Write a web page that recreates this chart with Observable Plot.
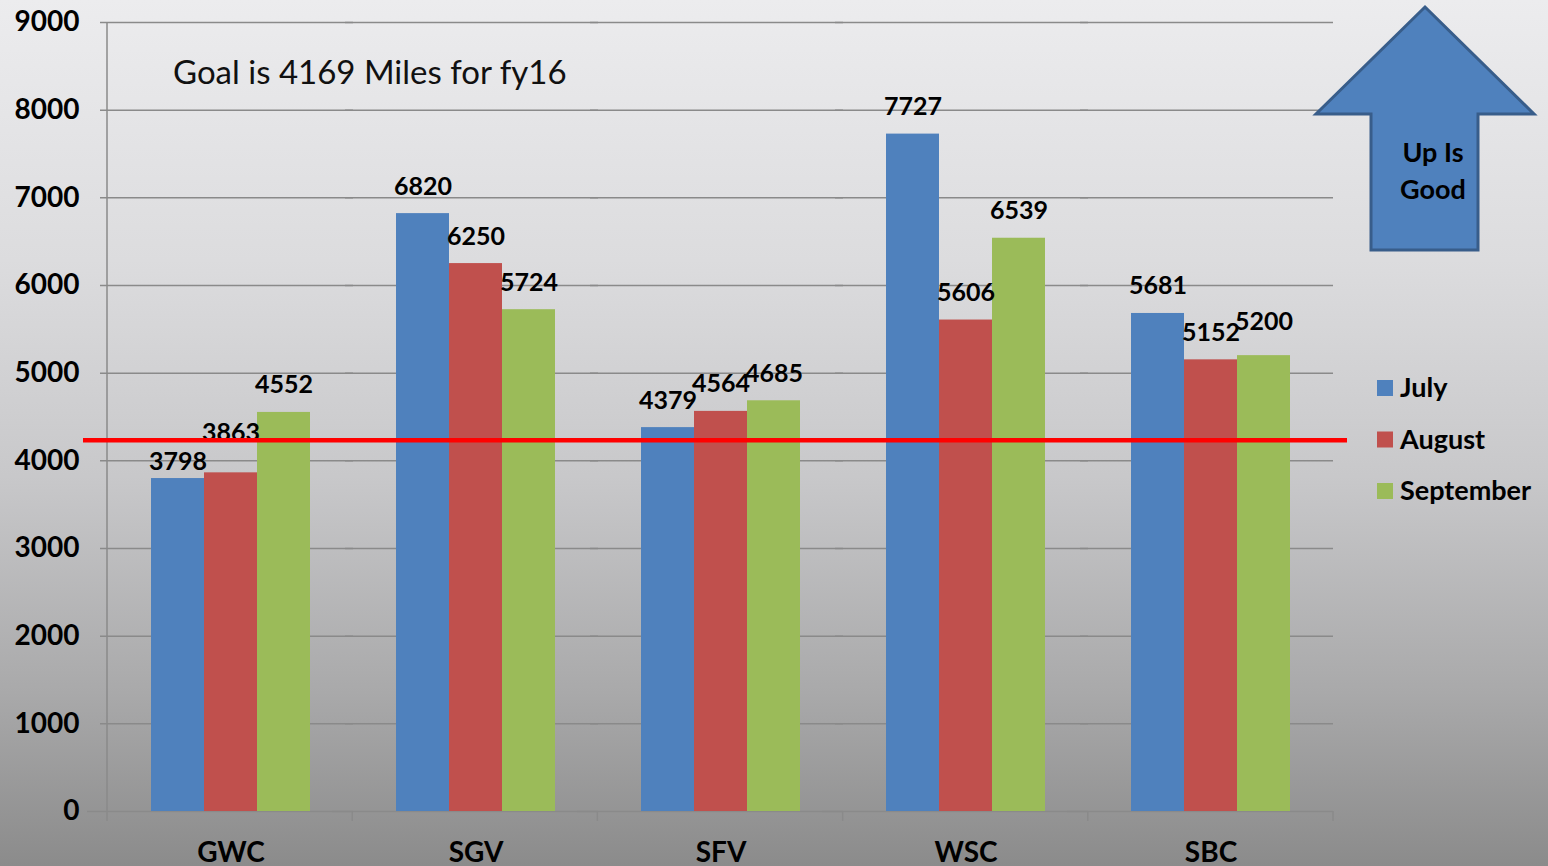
<!DOCTYPE html>
<html>
<head>
<meta charset="utf-8">
<script src="https://cdn.jsdelivr.net/npm/d3@7"></script>
<script src="https://cdn.jsdelivr.net/npm/@observablehq/plot@0.6"></script>
<style>
  html, body { margin: 0; padding: 0; }
  body {
    width: 1548px; height: 866px; overflow: hidden;
    background: linear-gradient(to bottom, #ececee 0%, #dcdcde 30%, #c8c8ca 55%, #a9a9aa 80%, #8b8b8b 100%);
  }
  #chart svg { display: block; background: transparent; }
</style>
</head>
<body>
<div id="chart"></div>
<script>
// ---- data ----
const categories = ["GWC", "SGV", "SFV", "WSC", "SBC"];
const series = ["July", "August", "September"];
const july      = [3798, 6820, 4379, 7727, 5681];
const august    = [3863, 6250, 4564, 5606, 5152];
const september = [4552, 5724, 4685, 6539, 5200];
const yTicks = [0, 1000, 2000, 3000, 4000, 5000, 6000, 7000, 8000, 9000];
const goalText = "Goal is 4169 Miles for fy16";
const goalLineLevel = 4230; // where the red line sits in the picture
const arrowText = ["Up Is", "Good"];
const colors = ["#4f81bd", "#c0504d", "#9bbb59"];

const seriesValues = [july, august, september];
const rows = categories.flatMap((c, i) =>
  series.map((s, j) => ({ cat: c, series: s, value: seriesValues[j][i] }))
);

// labels that the original chart nudged to avoid overlaps
const isKey = (d, c, s) => d.cat === c && d.series === s;
const lowLabel = d => isKey(d, "GWC", "July");
const highLabel = d => isKey(d, "GWC", "August");
const midLabel = d => isKey(d, "SBC", "September");
const normalLabel = d => !lowLabel(d) && !highLabel(d) && !midLabel(d);

const labelOpts = (dy) => ({ x: "series", y: "value", text: d => String(d.value), dy, fontSize: 25, fontWeight: "bold", fill: "#000" });

const W = 1548, H = 866;
const plot = Plot.plot({
  width: W, height: H,
  marginLeft: 107, marginRight: 215, marginTop: 22, marginBottom: 55,
  facet: { data: rows, x: "cat" },
  fx: { domain: categories, padding: 0, label: null, tickSize: 0, tickPadding: 31 },
  x: { domain: series, axis: null, paddingInner: 0, paddingOuter: 0.77 },
  y: { domain: [0, 9000], ticks: yTicks, tickSize: 0, tickPadding: 29, label: null, tickFormat: d => String(d) },
  color: { domain: series, range: colors },
  style: { background: "transparent", fontFamily: "Lato, 'Open Sans', sans-serif", fontSize: "28px", fontWeight: "bold", color: "#000", overflow: "visible" },
  marks: [
    Plot.ruleY(yTicks.filter(t => t > 0), { stroke: "#8a8a8a", strokeWidth: 1.5, insetLeft: -8 }),
    Plot.ruleY([0], { stroke: "#8a8a8a", strokeWidth: 1.5, insetLeft: -21 }),
    Plot.barY(rows, { x: "series", y: "value", fill: "series" }),
    Plot.text(rows, { ...labelOpts(-27), filter: normalLabel }),
    Plot.text(rows, { ...labelOpts(-17), filter: lowLabel }),
    Plot.text(rows, { ...labelOpts(-40), filter: highLabel }),
    Plot.text(rows, { ...labelOpts(-34), filter: midLabel })
  ]
});
document.getElementById("chart").appendChild(plot);

// ---- annotations using the plot's own scales ----
const svg = d3.select(plot.tagName.toLowerCase() === "svg" ? plot : plot.querySelector("svg"));
const ys = plot.scale("y");
const yScale = d3.scaleLinear(ys.domain, ys.range);
const fxs = plot.scale("fx");
const fxScale = d3.scaleBand(fxs.domain, fxs.range)
  .paddingInner(fxs.paddingInner ?? fxs.padding ?? 0)
  .paddingOuter(fxs.paddingOuter ?? fxs.padding ?? 0);
const x0 = fxs.range[0], x1 = fxs.range[1];
const yBase = yScale(0), yTop = yScale(9000);

const g = svg.append("g").attr("font-family", "Lato, 'Open Sans', sans-serif").attr("text-anchor", "start");

// y axis line
g.append("line").attr("x1", x0).attr("x2", x0).attr("y1", yTop).attr("y2", yBase)
  .attr("stroke", "#8a8a8a").attr("stroke-width", 1.5);
// category boundary ticks
const bounds = categories.map(c => fxScale(c)).concat([fxScale(categories[categories.length - 1]) + fxScale.bandwidth()]);
g.selectAll("line.bt").data(bounds).join("line").attr("class", "bt")
  .attr("x1", d => d).attr("x2", d => d).attr("y1", yBase).attr("y2", yBase + 10)
  .attr("stroke", "#8a8a8a").attr("stroke-width", 1.5);

// goal line
g.append("line").attr("x1", x0 - 24).attr("x2", x1 + 14)
  .attr("y1", yScale(goalLineLevel)).attr("y2", yScale(goalLineLevel))
  .attr("stroke", "#ff0000").attr("stroke-width", 4.5);

// goal text
g.append("text").attr("x", x0 + 66).attr("y", yTop + 62).attr("text-anchor", "start")
  .attr("font-size", 33).attr("font-weight", "normal").attr("fill", "#111")
  .text(goalText);

// arrow
const arrowPts = [[1425, 7], [1534, 114], [1478, 114], [1478, 250], [1371, 250], [1371, 114], [1316, 114]];
g.append("polygon").attr("points", arrowPts.map(p => p.join(",")).join(" "))
  .attr("fill", "#4f81bd").attr("stroke", "#385d8a").attr("stroke-width", 3).attr("stroke-linejoin", "miter");
g.selectAll("text.arr").data(arrowText).join("text").attr("class", "arr")
  .attr("x", 1433).attr("y", (d, i) => 162 + i * 37)
  .attr("text-anchor", "middle").attr("font-size", 27).attr("font-weight", "bold").attr("fill", "#000")
  .text(d => d);

// legend
const cs = plot.scale("color");
const leg = g.selectAll("g.leg").data(cs.domain).join("g").attr("class", "leg")
  .attr("transform", (d, i) => `translate(1377, ${388 + i * 51.5})`);
leg.append("rect").attr("x", 0).attr("y", -8).attr("width", 16).attr("height", 16)
  .attr("fill", (d, i) => cs.range[i]);
leg.append("text").attr("x", 23).attr("y", 0).attr("dy", "0.35em").attr("text-anchor", "start")
  .attr("font-size", 27).attr("font-weight", "bold").attr("fill", "#000")
  .text(d => d);
</script>
</body>
</html>
